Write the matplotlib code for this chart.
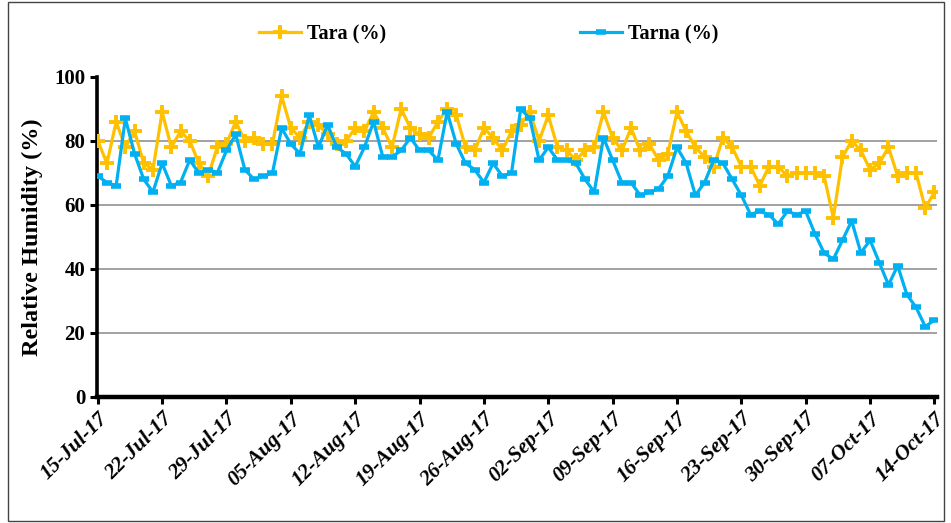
import numpy as np
import pandas as pd
import matplotlib
matplotlib.use("Agg")
import matplotlib.pyplot as plt
import matplotlib.dates as mdates
from matplotlib.patches import Rectangle

# daily relative humidity, 15-Jul-2017 .. 14-Oct-2017
dates = pd.date_range("2017-07-15", "2017-10-14", freq="D")

tara = [80, 73, 86, 78, 83, 73, 71, 89, 78, 83, 80, 73, 69, 78, 79, 86, 80, 81, 79, 79, 94,
        84, 81, 86, 85, 82, 79, 80, 84, 83, 89,
        84, 78, 90, 84, 82, 81, 86, 90, 88, 78, 77, 84, 81, 77,
        83, 85, 89, 80, 88, 78, 77, 74, 77, 78, 89, 81, 77, 84, 77, 79, 74, 76, 89,
        83, 78, 75, 72, 81, 78, 72, 72, 66, 72, 72,
        69, 70, 70, 70, 69, 56, 75, 80, 77, 71, 73, 78, 69, 70, 70, 59, 64]

tarna = [69, 67, 66, 87, 76, 68, 64, 73, 66, 67, 74, 70, 71, 70, 77, 82, 71, 68, 69, 70, 84,
         79, 76, 88, 78, 85, 78, 76, 72, 78, 86,
         75, 75, 77, 81, 77, 77, 74, 89, 79, 73, 71, 67, 73, 69,
         70, 90, 87, 74, 78, 74, 74, 73, 68, 64, 81, 74, 67, 67, 63, 64, 65, 69, 78,
         73, 63, 67, 74, 73, 68, 63, 57, 58, 57, 54,
         58, 57, 58, 51, 45, 43, 49, 55, 45, 49, 42, 35, 41, 32, 28, 22, 24]

yticks = [0, 20, 40, 60, 80, 100]

serif = "Liberation Serif"

fig = plt.figure(figsize=(9.51, 5.23), dpi=100)
ax = fig.add_axes([0.102, 0.241, 0.883, 0.612])

ax.plot(dates, tara, color="#FFC000", lw=2.3, marker="+", ms=10, mew=2.8,
        label="Tara (%)", zorder=3)
ax.plot(dates, tarna, color="#00B0F0", lw=2.3, marker="_", ms=6.5, mew=4,
        label="Tarna (%)", zorder=4)

ax.set_ylim(0, 100)
ax.set_yticks(yticks)
ax.set_xlim(dates[0] - pd.Timedelta(hours=2), dates[-1] + pd.Timedelta(hours=6))
ax.set_xticks(dates[::7])
ax.xaxis.set_major_formatter(mdates.DateFormatter("%d-%b-%y"))

ax.grid(axis="y", color="#9a9a9a", lw=1.3)
ax.get_ygridlines()[-1].set_visible(False)
ax.set_axisbelow(True)

for s in ["top", "right"]:
    ax.spines[s].set_visible(False)
ax.spines["left"].set_linewidth(2.6)
ax.spines["bottom"].set_linewidth(3.2)

ax.tick_params(axis="both", direction="out", length=5, width=2.2, color="black")
for lab in ax.get_yticklabels():
    lab.set_fontfamily(serif)
    lab.set_fontweight("bold")
    lab.set_fontsize(15)
for lab in ax.get_xticklabels():
    lab.set_fontfamily(serif)
    lab.set_fontweight("bold")
    lab.set_fontstyle("italic")
    lab.set_fontsize(15.5)
    lab.set_rotation(45)
    lab.set_ha("right")
    lab.set_rotation_mode("anchor")

ax.set_ylabel("Relative Humidity (%)", fontfamily=serif, fontweight="bold",
              fontsize=17.5, labelpad=8)

fig.legend(loc="center", bbox_to_anchor=(0.514, 0.934), ncol=2, frameon=False,
           prop={"family": serif, "weight": "bold", "size": 14.5},
           handlelength=2.1, columnspacing=9.6, handletextpad=0.3)

fig.patches.append(Rectangle((0.008, 0.004), 0.985, 0.992, transform=fig.transFigure,
                             fill=False, edgecolor="#444444", lw=1))

fig.savefig("out.png", dpi=100)
